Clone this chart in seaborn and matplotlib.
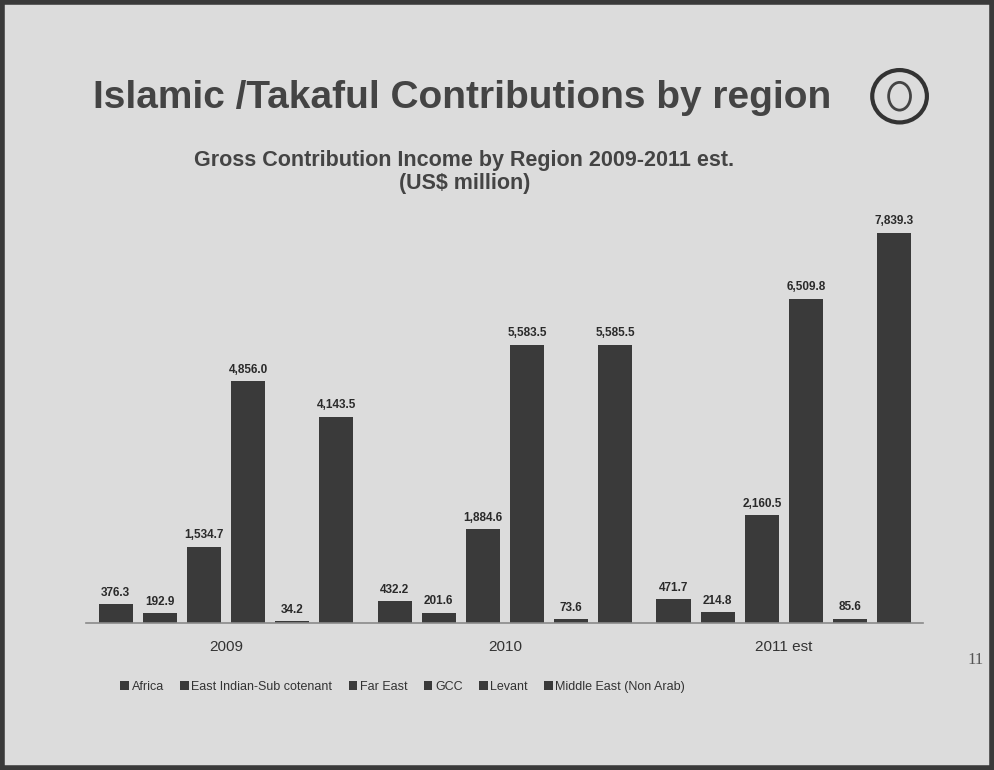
import matplotlib
matplotlib.use("Agg")
import matplotlib.pyplot as plt
import seaborn as sns
import pandas as pd
from matplotlib.patches import Rectangle, Ellipse

# Gross contribution income by region (US$ million)
years = ["2009", "2010", "2011 est"]
regions = ["Africa", "East Indian-Sub cotenant", "Far East", "GCC", "Levant",
           "Middle East (Non Arab)"]
africa = [376.3, 432.2, 471.7]
east_indian = [192.9, 201.6, 214.8]
far_east = [1534.7, 1884.6, 2160.5]
gcc = [4856.0, 5583.5, 6509.8]
levant = [34.2, 73.6, 85.6]
middle_east = [4143.5, 5585.5, 7839.3]

series = [africa, east_indian, far_east, gcc, levant, middle_east]
df = pd.DataFrame(
    [(y, r, vals[i]) for r, vals in zip(regions, series) for i, y in enumerate(years)],
    columns=["year", "region", "value"],
)

sns.set_theme(style="white")
plt.rcParams["font.family"] = ["Liberation Sans", "DejaVu Sans"]

BG = "#dcdcdc"
BAR = "#3a3a3a"

fig = plt.figure(figsize=(9.94, 7.70), dpi=100, facecolor=BG)
ax = fig.add_axes([0.087, 0.191, 0.842, 0.530])
ax.set_facecolor(BG)

sns.barplot(data=df, x="year", y="value", hue="region", order=years,
            hue_order=regions, palette=[BAR] * len(regions),
            width=0.95, gap=0.23, saturation=1, linewidth=0, ax=ax, errorbar=None)

for cont, vals in zip(ax.containers, series):
    ax.bar_label(cont, labels=[f"{v:,.1f}" for v in vals], padding=4,
                 fontsize=8.5, fontweight="bold", color="#2a2a2a")

ax.set_ylim(0, 8200)
ax.set_xlim(-0.5, 2.5)
ax.set_xlabel("")
ax.set_ylabel("")
ax.set_yticks([])
ax.tick_params(axis="x", length=0, pad=12, labelsize=11, labelcolor="#333333")
for s in ["left", "right", "top"]:
    ax.spines[s].set_visible(False)
ax.spines["bottom"].set_color("#8a8a8a")
ax.spines["bottom"].set_linewidth(1.2)

handles, labels = ax.get_legend_handles_labels()
ax.legend(handles, labels, ncol=6, loc="center", bbox_to_anchor=(0.405, 0.108),
          bbox_transform=fig.transFigure, frameon=False, fontsize=9,
          handlelength=0.7, handleheight=0.7, handletextpad=0.2,
          columnspacing=1.3, labelcolor="#333333")

# Titles
fig.text(0.094, 0.873, "Islamic /Takaful Contributions by region", fontsize=28,
         fontweight="bold", color="#444444", ha="left", va="center")
fig.text(0.467, 0.792, "Gross Contribution Income by Region 2009-2011 est.",
         fontsize=15.5, fontweight="bold", color="#444444", ha="center", va="center")
fig.text(0.467, 0.762, "(US$ million)", fontsize=15.5, fontweight="bold",
         color="#444444", ha="center", va="center")

# Page number
fig.text(0.981, 0.143, "11", fontsize=12, family=["Liberation Serif", "DejaVu Serif"],
         color="#555555", ha="center", va="center")

# Logo ring in the corner
fig.add_artist(Ellipse((0.905, 0.875), 0.055, 0.068, transform=fig.transFigure,
                       fill=False, edgecolor="#333333", linewidth=3))
fig.add_artist(Ellipse((0.905, 0.875), 0.022, 0.036, transform=fig.transFigure,
                       fill=False, edgecolor="#444444", linewidth=2))

# Slide frame
fig.add_artist(Rectangle((0.002, 0.003), 0.996, 0.994, transform=fig.transFigure,
                         fill=False, edgecolor="#3a3a3a", linewidth=4))

fig.savefig("out.png", dpi=100, facecolor=BG)
